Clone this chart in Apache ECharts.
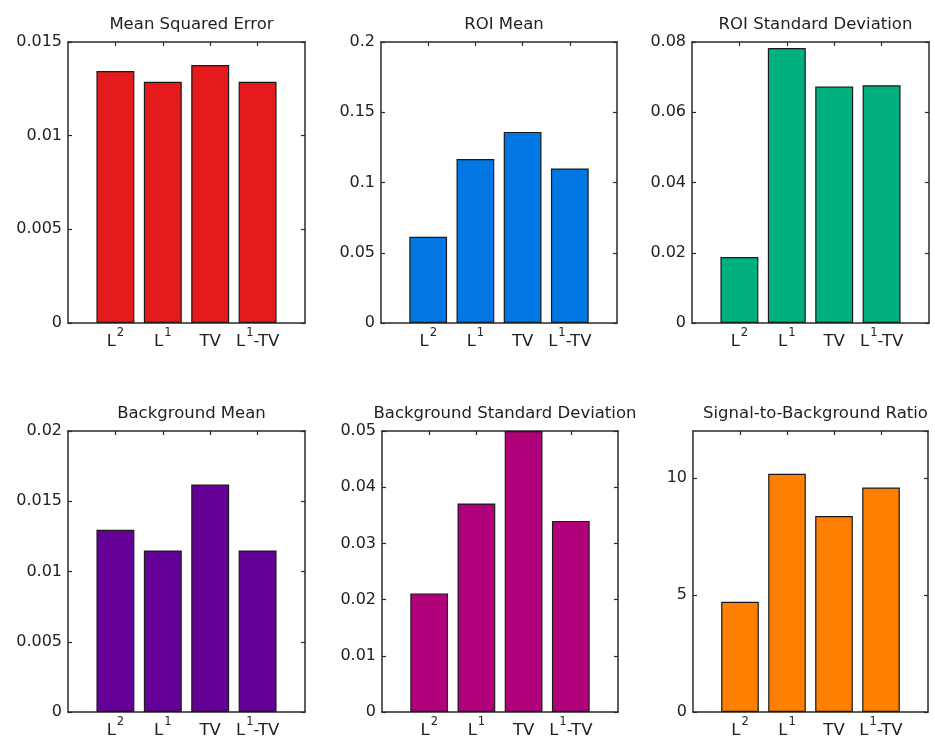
<!DOCTYPE html>
<html>
<head>
<meta charset="utf-8">
<script src="https://cdn.jsdelivr.net/npm/echarts@6/dist/echarts.min.js"></script>
<style>
html,body{margin:0;padding:0;background:#fff;}
#chart{width:935px;height:749px;}
</style>
</head>
<body>
<div id="chart"></div>
<script>
// ---- data ----
const categories = ['L^2', 'L^1', 'TV', 'L^1-TV'];
const panelTitles = ['Mean Squared Error', 'ROI Mean', 'ROI Standard Deviation',
                     'Background Mean', 'Background Standard Deviation', 'Signal-to-Background Ratio'];
const meanSquaredError = [0.01345, 0.01288, 0.01377, 0.01288];
const roiMean = [0.0614, 0.1167, 0.1360, 0.1100];
const roiStd = [0.0188, 0.0783, 0.0673, 0.0677];
const backgroundMean = [0.01297, 0.0115, 0.0162, 0.0115];
const backgroundStd = [0.0211, 0.0371, 0.0500, 0.0340];
const signalToBackground = [4.71, 10.17, 8.37, 9.59];
const yMaxes = [0.015, 0.2, 0.08, 0.02, 0.05, 12];
const yIntervals = [0.005, 0.05, 0.02, 0.005, 0.01, 5];

const seriesValues = [meanSquaredError, roiMean, roiStd, backgroundMean, backgroundStd, signalToBackground];
const colors = ['#E41A1C', '#0077E2', '#00B07E', '#650096', '#B0007A', '#FF8000'];

// ---- layout ----
const grids = [
  {left: 68,  top: 42,  width: 237, height: 281},
  {left: 381, top: 42,  width: 236, height: 281},
  {left: 692, top: 42,  width: 237, height: 281},
  {left: 68,  top: 431, width: 237, height: 281},
  {left: 382, top: 431, width: 236, height: 281},
  {left: 693, top: 431, width: 235, height: 281}
];

const FONT = 'DejaVu Sans';
const TXT = '#222';
const AX = '#2a2a2a';

function richLabel(s) {
  const m = s.match(/^([^\^]*)\^(\d)(.*)$/);
  // labels without a superscript get an empty raised token so every label has the same height
  if (!m) return '{b|' + s + '}{pad| }';
  let out = '{b|' + m[1] + '}{sup|' + m[2] + '}';
  if (m[3]) out += '{b|' + m[3] + '}';
  return out;
}

const positions = categories.map((c, i) => i + 1);

const option = {
  backgroundColor: '#fff',
  animation: false,
  title: [],
  grid: [],
  xAxis: [],
  yAxis: [],
  series: []
};

grids.forEach((g, k) => {
  option.grid.push({left: g.left, top: g.top, width: g.width, height: g.height, containLabel: false});
  option.title.push({
    text: panelTitles[k],
    left: g.left + g.width / 2,
    top: g.top - 31,
    textAlign: 'center',
    textStyle: {fontFamily: FONT, fontSize: 16.5, fontWeight: 'normal', color: TXT}
  });
  const axLine = {show: true, onZero: false, lineStyle: {color: AX, width: 1.5}};
  const tick = {show: true, inside: true, length: 4, lineStyle: {color: AX, width: 1.2}};
  // bottom x
  option.xAxis.push({
    type: 'value', gridIndex: k, position: 'bottom', min: 0, max: 5, interval: 1,
    axisLine: axLine, splitLine: {show: false},
    axisTick: Object.assign({customValues: positions}, tick),
    axisLabel: {
      show: true, margin: 4, customValues: positions,
      formatter: v => richLabel(categories[Math.round(v) - 1] || ''),
      rich: {
        b: {fontFamily: FONT, fontSize: 16.5, color: TXT, verticalAlign: 'bottom'},
        sup: {fontFamily: FONT, fontSize: 11.5, color: TXT, verticalAlign: 'bottom', padding: [0, 0, 11, 1]},
        pad: {fontFamily: FONT, fontSize: 11.5, color: TXT, verticalAlign: 'bottom', padding: [0, 0, 11, 0], width: 0}
      }
    }
  });
  // top x (box + ticks)
  option.xAxis.push({
    type: 'value', gridIndex: k, position: 'top', min: 0, max: 5, interval: 1,
    axisLine: axLine, splitLine: {show: false},
    axisTick: Object.assign({customValues: positions}, tick),
    axisLabel: {show: false}
  });
  // left y
  option.yAxis.push({
    type: 'value', gridIndex: k, position: 'left', min: 0, max: yMaxes[k], interval: yIntervals[k],
    axisLine: axLine, splitLine: {show: false},
    axisTick: tick,
    axisLabel: {show: true, margin: 6, showMaxLabel: k !== 5,
      fontFamily: FONT, fontSize: 16, color: TXT}
  });
  // right y
  option.yAxis.push({
    type: 'value', gridIndex: k, position: 'right', min: 0, max: yMaxes[k], interval: yIntervals[k],
    axisLine: axLine, splitLine: {show: false},
    axisTick: tick,
    axisLabel: {show: false}
  });
  option.series.push({
    type: 'bar',
    xAxisIndex: 2 * k,
    yAxisIndex: 2 * k,
    barWidth: g.width / 5 * 0.8,
    clip: true,
    itemStyle: {color: colors[k], borderColor: '#1a1a1a', borderWidth: 1.2},
    data: seriesValues[k].map((v, i) => [positions[i], v])
  });
});

const chart = echarts.init(document.getElementById('chart'), null, {renderer: 'canvas'});
chart.setOption(option);
</script>
</body>
</html>
